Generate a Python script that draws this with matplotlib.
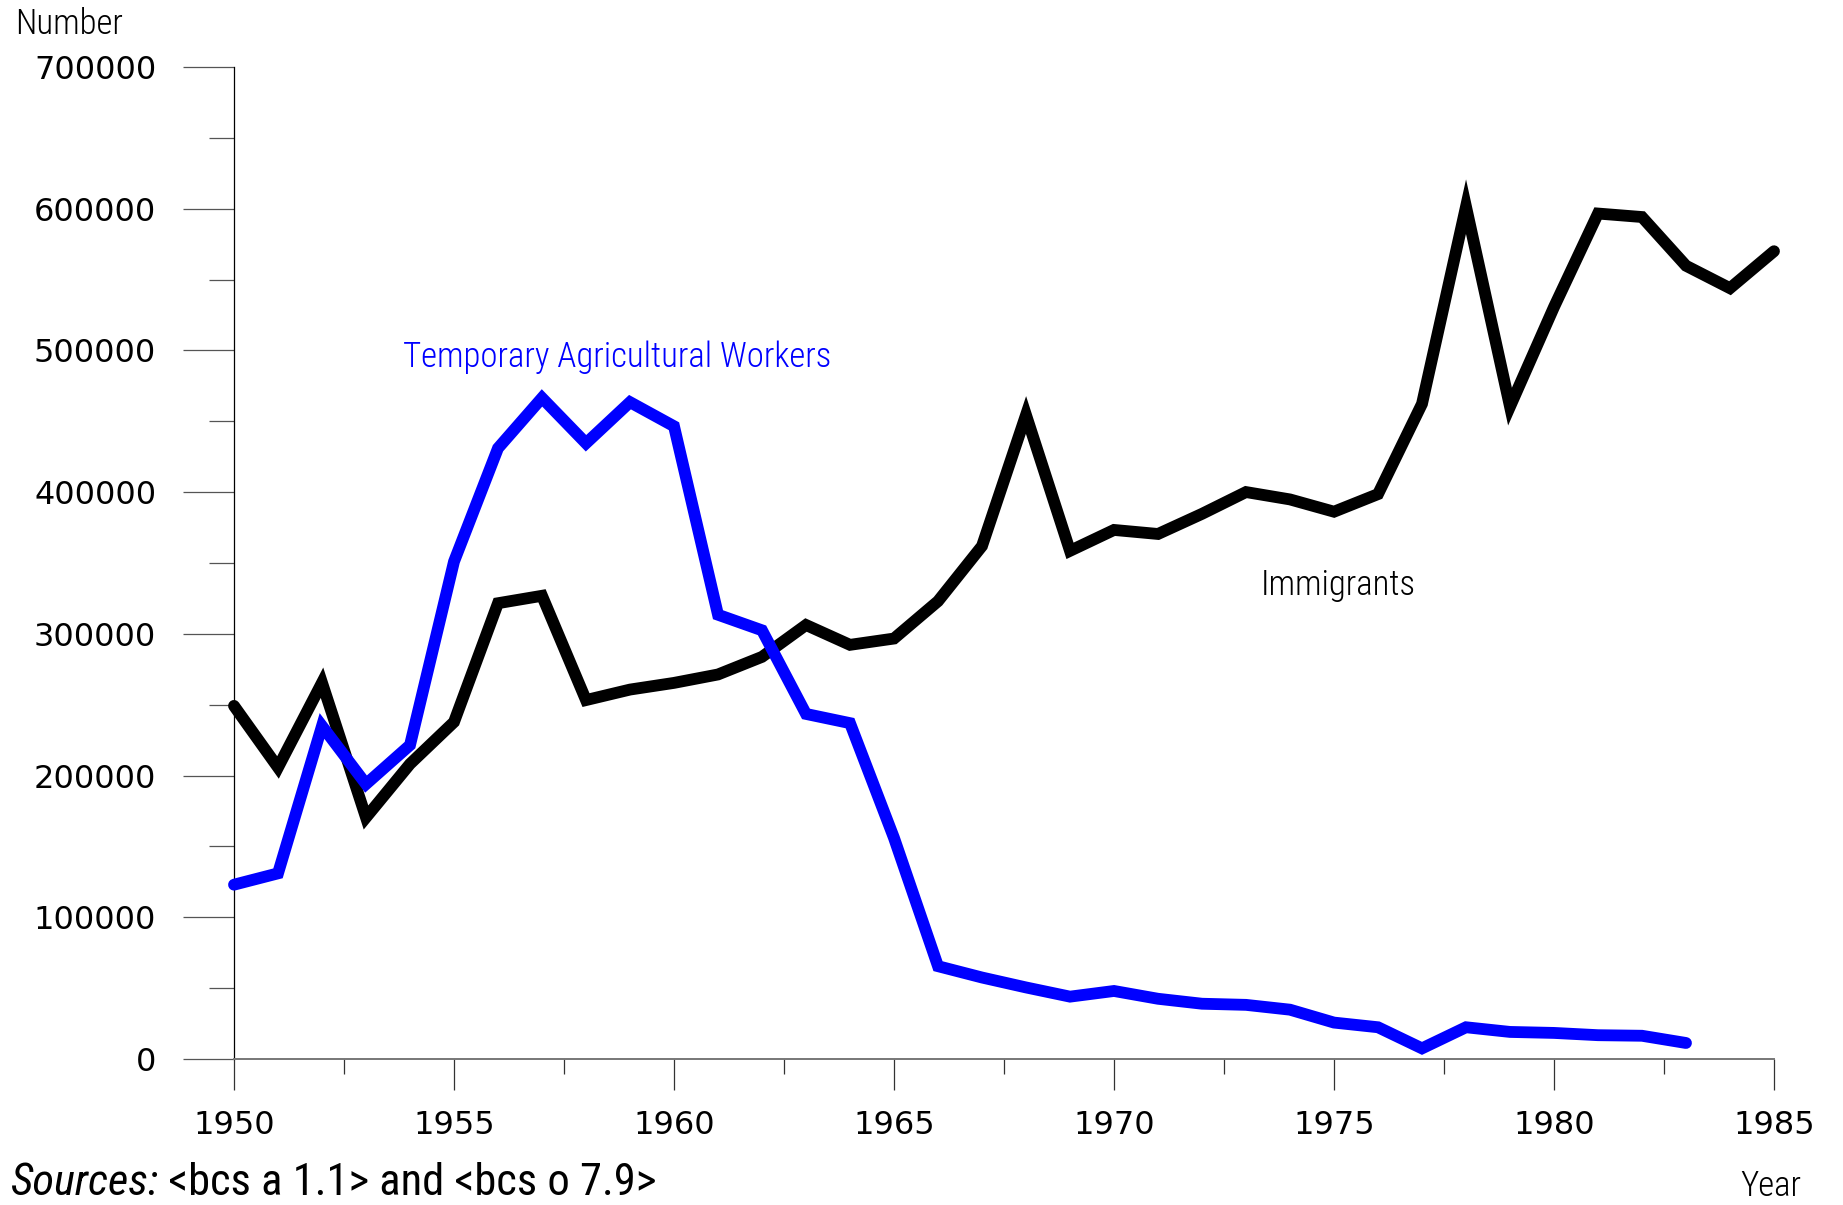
import numpy as np
import matplotlib.pyplot as plt
from matplotlib import font_manager
from matplotlib.ticker import MultipleLocator

# Datos
years = list(range(1950, 1986))
immigrants = [249187, 205717, 265520, 170434, 208177, 237790, 321625, 326867,
              253265, 260686, 265398, 271344, 283763, 306260, 292248, 296697,
              323040, 361972, 454448, 358579, 373326, 370478, 384685, 400063,
              394861, 386194, 398613, 462315, 601442, 460348, 530639, 596600,
              594131, 559763, 543903, 570009]

worker_years = list(range(1950, 1984))
workers = [123000, 131000, 235000, 194000, 221500, 351000, 431000, 466500,
           434500, 463500, 446500, 313500, 302500, 243500, 237000, 156000,
           65500, 57500, 50500, 44000, 48000, 42500, 39000, 38200,
           34800, 25700, 22400, 7500, 22400, 19100, 18400, 16800,
           16400, 11300]

# Fuente estrecha si existe
installed = {f.name for f in font_manager.fontManager.ttflist}
narrow_name = None
for cand in ['Liberation Sans Narrow', 'Roboto Condensed', 'Open Sans Condensed',
             'Roboto', 'Liberation Sans']:
    if cand in installed:
        narrow_name = cand
        break
narrow = [narrow_name, 'DejaVu Sans'] if narrow_name else ['DejaVu Sans']
is_narrow = narrow_name in ('Liberation Sans Narrow', 'Roboto Condensed',
                            'Open Sans Condensed')
lsize = 25 if is_narrow else 22
ssize = 32 if is_narrow else 27
wide = ['DejaVu Sans']

W, H = 1843, 1205
fig = plt.figure(figsize=(W / 100, H / 100), dpi=100)
ax = fig.add_axes([234 / W, 1 - 1059 / H, (1774 - 234) / W, (1059 - 67) / H])

ax.plot(years, immigrants, color='black', lw=8.5, solid_capstyle='round',
        solid_joinstyle='miter', clip_on=False, zorder=3)
ax.plot(worker_years, workers, color='#0000ff', lw=8.5, solid_capstyle='round',
        solid_joinstyle='miter', clip_on=False, zorder=4)

ax.set_xlim(1950, 1985)
ax.set_ylim(0, 700000)

for s in ['top', 'right']:
    ax.spines[s].set_visible(False)
ax.spines['left'].set_linewidth(0.9)
ax.spines['bottom'].set_linewidth(1.4)
ax.spines['bottom'].set_color('#777777')

ax.xaxis.set_major_locator(MultipleLocator(5))
ax.xaxis.set_minor_locator(MultipleLocator(2.5))
ax.yaxis.set_major_locator(MultipleLocator(100000))
ax.yaxis.set_minor_locator(MultipleLocator(50000))

ax.tick_params(axis='y', which='major', direction='out', length=37, width=0.9,
               color='#555555', pad=19, labelsize=23)
ax.tick_params(axis='y', which='minor', direction='out', length=18, width=0.9,
               color='#555555')
ax.tick_params(axis='x', which='major', direction='out', length=22, width=0.9,
               color='#333333', pad=15, labelsize=23)
ax.tick_params(axis='x', which='minor', direction='out', length=11, width=0.9,
               color='#333333')
for lab in ax.get_xticklabels() + ax.get_yticklabels():
    lab.set_family(wide)

ax.yaxis.set_major_formatter(plt.FuncFormatter(lambda v, p: f"{int(v)}"))

# Etiquetas de texto
fig.text(15 / W, 1 - 24 / H, "Number", fontsize=lsize, family=narrow,
         weight='light', ha='left', va='center')
ax.text(1958.71, 495000, "Temporary Agricultural Workers", fontsize=lsize,
        family=narrow, weight='light', color='#0000ff', ha='center', va='center')
ax.text(1975.09, 334000, "Immigrants", fontsize=lsize, family=narrow,
        weight='light', ha='center', va='center')
fig.text(1771 / W, 1 - 1186 / H, "Year", fontsize=lsize, family=narrow,
         weight='light', ha='center', va='center')

t1 = fig.text(10 / W, 1 / H, "Sources:", fontsize=ssize, family=narrow,
              style='italic', ha='left', va='bottom')
ax.annotate(" <bcs a 1.1> and <bcs o 7.9>", xy=(1, 0), xycoords=t1,
            fontsize=ssize, family=narrow, ha='left',
            va='bottom', annotation_clip=False)

fig.savefig("out.png", dpi=100)
